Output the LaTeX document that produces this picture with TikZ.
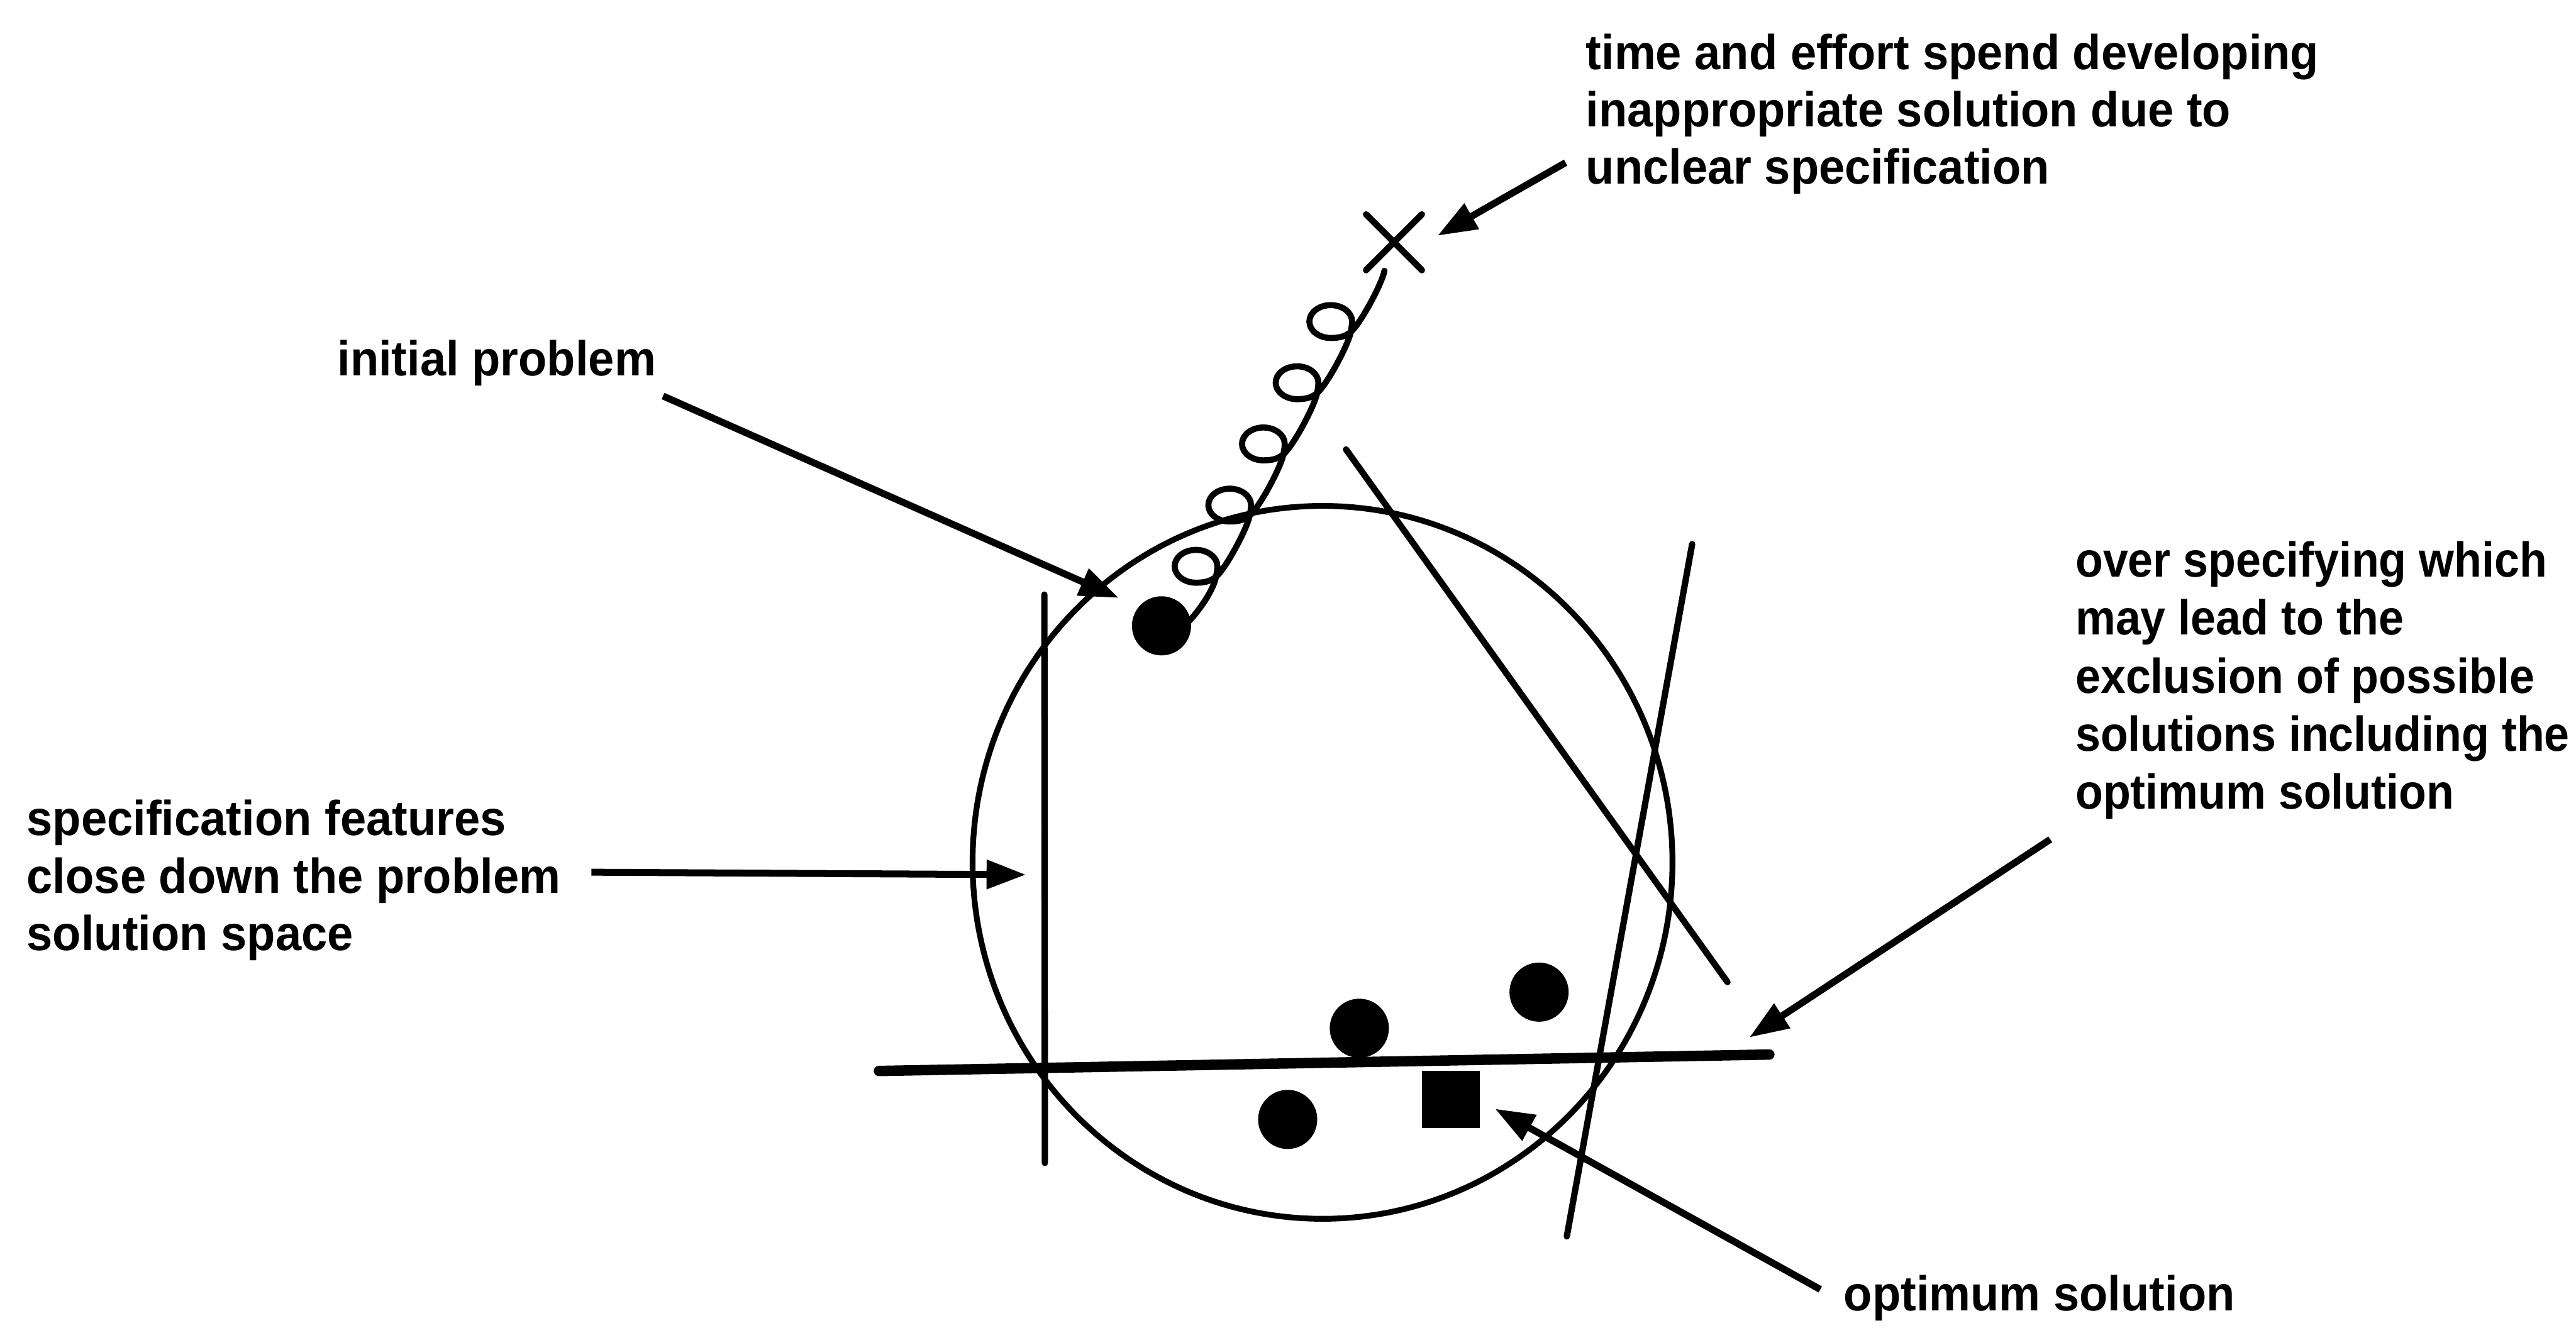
\documentclass[tikz,border=0pt]{standalone}
\usepackage{fontspec}
\newfontfamily\lbl{Liberation Sans}[FakeStretch=0.95]
\newfontfamily\lblr{Liberation Sans}[FakeStretch=0.92]
\usetikzlibrary{arrows.meta,calc}
\begin{document}
\begin{tikzpicture}[x=0.02cm,y=-0.02cm,
  lab/.style={anchor=north west, inner sep=0pt, align=left,
    font=\lbl\bfseries\fontsize{17}{19.9}\selectfont},
  labr/.style={lab, font=\lblr\bfseries\fontsize{17}{20.1}\selectfont},
  arr/.style={line width=2.4pt, -{Triangle[length=0.48cm,width=0.34cm]}},
  thinline/.style={line width=2pt},
  cutline/.style={line width=2.2pt, line cap=round},
  barline/.style={line width=3.6pt, line cap=round},
  dot/.style={circle, fill=black, inner sep=0pt, minimum size=0.72cm},
  sq/.style={rectangle, fill=black, inner sep=0pt, minimum size=0.7cm},
]
\useasboundingbox (0,0) rectangle (1568,808.4);

% problem space
\draw[thinline] (805,525) ellipse [x radius=213, y radius=217];

% specification lines
\coordinate (v1) at (635.7,362);  \coordinate (v2) at (636,708);
\coordinate (g1) at (819.3,273.6); \coordinate (g2) at (1051.5,597.9);
\coordinate (s1) at (1030,331.2);  \coordinate (s2) at (953.7,752.7);
\coordinate (b1) at (535,652);     \coordinate (b2) at (1077,642);
\draw[cutline] (v1) -- (v2);
\draw[cutline] (g1) -- (g2);
\draw[cutline] (s1) -- (s2);
\draw[barline] (b1) -- (b2);

% curly path from the initial problem to the cross
\draw[line width=2.1pt, line cap=round] (722,380) .. controls (730,372) and (738.7,359.05) .. (740.2,351.05)
  \foreach \k [evaluate=\k as \cx using 707.5+20.5*\k,
               evaluate=\k as \cy using 382-37.25*\k] in {1,...,5} {
    .. controls (\cx+12.5,\cy+4.3) and (\cx+13,\cy+2.2) .. (\cx+13,\cy)
    .. controls (\cx+13,\cy-5.5) and (\cx+7.2,\cy-10) .. (\cx,\cy-10)
    .. controls (\cx-7.2,\cy-10) and (\cx-13,\cy-5.5) .. (\cx-13,\cy)
    .. controls (\cx-13,\cy+5.5) and (\cx-7.2,\cy+10) .. (\cx,\cy+10)
    .. controls (\cx+5.5,\cy+10) and (\cx+9,\cy+9) .. (\cx+12.2,\cy+6.3)
    .. controls (\cx+18,\cy+1.5) and (\cx+31.2,\cy-22.95) .. (\cx+32.7,\cy-30.95)
  };

% cross
\coordinate (xc) at (848.5,147.5);
\draw[line width=2.2pt, line cap=round] ($(xc)+(-17,-17)$) -- ($(xc)+(17,17)$);
\draw[line width=2.2pt, line cap=round] ($(xc)+(17,-17)$) -- ($(xc)+(-17,17)$);

% solutions
\node[dot] (init) at (707,381) {};
\node[dot] (sol1) at (827.4,626) {};
\node[dot] (sol2) at (936.8,604) {};
\node[dot] (sol3) at (783.8,681.5) {};
\node[sq] (opt) at (883.1,669.3) {};

% labels
\node[lab] (t1) at (965,20.2) {time and effort spend developing\\inappropriate solution due to\\unclear specification};
\node[lab] (t2) at (205,206.6) {initial problem};
\node[labr] (t3) at (1263,329.3) {over specifying which\\may lead to the\\exclusion of possible\\solutions including the\\optimum solution};
\node[lab] (t4) at (16,486.7) {specification features\\close down the problem\\solution space};
\node[lab] (t5) at (1122,776) {optimum solution};

% arrows
\coordinate (a1s) at (953,99);      \coordinate (a1e) at (875,143.5);
\coordinate (a2s) at (403.6,241.1); \coordinate (a2e) at (681,364);
\coordinate (a3s) at (360,531);     \coordinate (a3e) at (624.5,532.5);
\coordinate (a4s) at (1248,511);    \coordinate (a4e) at (1064.8,631.6);
\coordinate (a5s) at (1108,785);    \coordinate (a5e) at (910,675);
\draw[arr] (a1s) -- (a1e);
\draw[arr] (a2s) -- (a2e);
\draw[arr] (a3s) -- (a3e);
\draw[arr] (a4s) -- (a4e);
\draw[arr] (a5s) -- (a5e);
\end{tikzpicture}
\end{document}
